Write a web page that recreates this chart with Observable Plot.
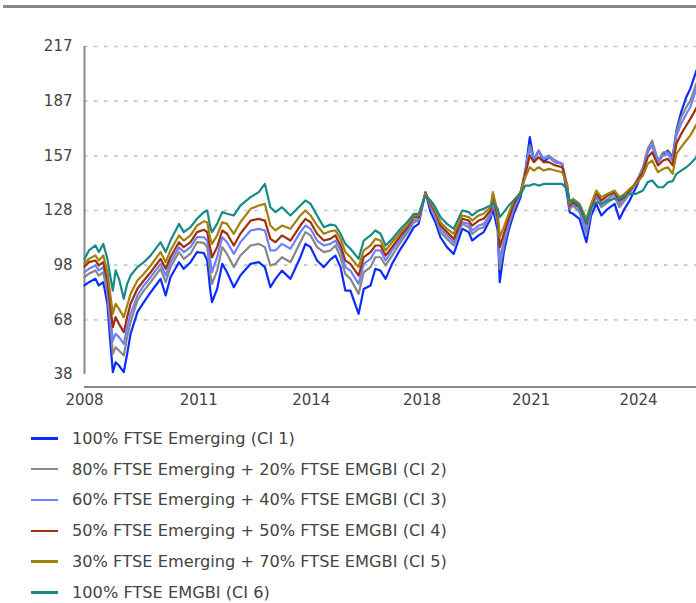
<!DOCTYPE html>
<html><head><meta charset="utf-8">
<script src="https://cdn.jsdelivr.net/npm/d3@7"></script>
<script src="https://cdn.jsdelivr.net/npm/@observablehq/plot@0.6"></script>
<style>
body{margin:0;background:#fff;font-family:"DejaVu Sans",sans-serif;}
#wrap{position:relative;width:696px;height:603px;overflow:hidden;background:#fff}
#topline{position:absolute;left:3px;right:0;top:5px;height:3px;background:#888}
#chart{position:absolute;left:0;top:0}
#legend{position:absolute;left:0;top:423px}
.item{height:30.8px;display:flex;align-items:center;font-size:16.2px;color:#444;white-space:nowrap}
.sw{width:27px;height:2.5px;margin-left:31px;margin-right:14px}
</style>
</head><body>
<div id="wrap"><div id="topline"></div><div id="chart"></div><div id="legend"></div></div>
<script>
const seriesNames = [
  "100% FTSE Emerging (CI 1)",
  "80% FTSE Emerging + 20% FTSE EMGBI (CI 2)",
  "60% FTSE Emerging + 40% FTSE EMGBI (CI 3)",
  "50% FTSE Emerging + 50% FTSE EMGBI (CI 4)",
  "30% FTSE Emerging + 70% FTSE EMGBI (CI 5)",
  "100% FTSE EMGBI (CI 6)"
];
const seriesColors = ["#0a2cff", "#878787", "#6f80ff", "#a0300a", "#a37f0c", "#178a88"];

const yTicks = [38, 67.83, 97.67, 127.5, 157.33, 187.17, 217];
const yTickLabels = ["38", "68", "98", "128", "157", "187", "217"];
const xTickYears = [2008.0, 2011.35, 2014.65, 2017.9, 2021.1, 2024.25];
const xTickLabels = ["2008", "2011", "2014", "2018", "2021", "2024"];
const xEnd = 2025.95;

// time in decimal years
const years = [2008.00,2008.13,2008.32,2008.42,2008.55,2008.67,2008.76,2008.83,2008.91,2009.01,
2009.15,2009.25,2009.35,2009.55,2009.74,2009.94,2010.23,2010.38,2010.52,2010.77,
2010.91,2011.11,2011.30,2011.50,2011.60,2011.69,2011.74,2011.89,2012.04,2012.18,
2012.38,2012.57,2012.87,2013.11,2013.29,2013.45,2013.60,2013.79,2014.04,2014.33,
2014.48,2014.63,2014.82,2015.02,2015.21,2015.36,2015.51,2015.65,2015.80,2016.04,
2016.19,2016.39,2016.53,2016.68,2016.83,2017.02,2017.27,2017.46,2017.66,2017.80,
2018.00,2018.15,2018.29,2018.44,2018.63,2018.83,2019.08,2019.27,2019.37,2019.56,
2019.71,2019.91,2019.98,2020.12,2020.18,2020.30,2020.44,2020.59,2020.79,2020.93,
2021.06,2021.18,2021.32,2021.47,2021.62,2021.81,2022.01,2022.15,2022.23,2022.33,
2022.52,2022.72,2022.86,2023.01,2023.16,2023.35,2023.55,2023.69,2023.84,2023.99,
2024.18,2024.38,2024.52,2024.65,2024.82,2024.97,2025.11,2025.25,2025.36,2025.50,
2025.65,2025.77,2025.95];

const ci1 = [86.6,88.4,90.2,86.6,88.4,76.6,54.7,39.3,44.7,42.9,
39.3,49.3,60.2,72.0,77.5,82.9,90.2,81.1,91.1,99.3,
95.7,99.3,104.8,104.3,100.2,83.8,77.5,84.7,98.4,93.8,
85.6,92.0,98.4,99.3,96.6,85.6,90.2,94.7,90.2,102.0,
109.3,107.5,100.2,96.6,100.7,102.9,96.6,83.8,83.8,71.1,
84.7,86.6,95.7,94.7,90.2,98.4,106.6,112.0,118.4,120.2,
137.5,126.6,121.1,112.9,107.5,103.8,117.5,115.7,111.1,113.9,
115.7,123.0,128.4,116.6,88.4,104.8,116.6,125.7,134.8,149.3,
167.5,154.8,160.2,153.9,156.6,153.9,153.0,136.6,126.6,125.7,
122.9,110.2,124.8,131.1,124.8,128.4,131.1,122.9,128.4,132.9,
140.2,149.3,160.2,163.0,153.9,158.4,160.2,156.6,171.1,181.2,
189.4,194.0,204.0];

const ci2 = [91.1,93.0,94.8,92.0,93.8,82.0,63.8,49.3,52.9,51.1,
48.4,58.4,66.6,78.4,83.8,88.4,95.7,88.4,96.6,104.8,
101.1,103.9,110.2,109.8,107.5,92.9,87.5,94.7,107.5,103.8,
96.6,102.9,108.4,109.3,107.5,97.5,98.4,102.0,99.3,110.2,
115.7,113.9,107.5,104.8,105.7,108.4,102.0,92.9,90.2,82.0,
93.8,96.6,102.0,102.0,97.5,102.9,110.2,115.1,121.1,122.0,
137.5,129.3,123.9,115.7,112.0,108.4,120.2,118.4,114.8,117.5,
118.4,124.8,132.0,120.2,95.7,108.4,119.3,128.4,136.6,149.3,
163.0,155.7,160.2,155.7,157.5,154.8,153.0,140.2,128.4,130.2,
126.6,114.8,127.5,134.8,129.3,132.0,134.8,129.3,132.9,136.6,
142.9,151.1,161.2,165.7,154.8,159.3,159.3,155.5,170.2,178.4,
183.9,187.5,197.0];

const ci3 = [93.8,95.7,97.5,94.8,96.6,85.6,69.3,56.5,60.2,58.4,
54.7,63.8,71.1,81.1,86.6,91.1,98.4,92.0,99.3,107.5,
104.8,107.5,113.0,112.9,111.1,100.2,93.8,102.0,112.9,110.2,
103.8,110.2,116.6,117.5,116.6,105.7,105.7,109.3,106.6,115.7,
119.3,117.5,111.1,108.4,109.3,111.1,105.7,96.6,94.7,87.5,
98.4,101.1,105.7,105.7,100.2,105.7,112.0,116.6,122.0,123.0,
137.5,130.2,124.8,117.5,113.9,110.2,121.1,120.2,116.6,119.3,
120.2,125.7,133.9,122.0,100.2,111.1,121.1,129.3,137.5,149.3,
161.2,155.7,159.3,155.7,156.6,153.9,153.0,141.1,129.3,131.1,
127.5,116.6,128.4,136.6,131.1,133.9,136.6,131.1,133.9,137.5,
142.9,150.2,159.3,163.0,153.9,157.5,158.4,154.5,168.4,174.8,
180.2,184.0,194.0];

const ci4 = [97.0,99.3,100.2,97.5,99.3,89.3,74.7,63.8,69.3,65.6,
61.1,69.3,76.6,84.8,89.3,93.8,101.1,95.7,102.0,110.2,
107.5,110.2,115.7,117.0,115.7,106.6,102.0,107.5,116.6,114.8,
108.4,114.8,122.0,122.9,122.0,112.0,110.2,113.9,111.1,119.3,
122.9,121.1,114.8,111.1,112.0,113.9,108.4,100.2,98.4,92.0,
102.0,104.8,108.4,108.4,102.9,107.5,113.9,118.0,123.9,123.9,
137.0,131.1,126.6,119.3,115.7,112.0,123.0,122.0,119.3,122.0,
123.0,127.5,135.7,123.9,107.5,114.8,123.0,131.1,137.5,147.5,
157.5,153.9,156.6,153.9,153.9,152.1,151.1,142.0,130.2,132.0,
129.3,120.2,129.3,137.5,132.9,135.7,137.5,132.9,134.8,138.4,
142.9,148.4,156.6,159.3,152.1,154.8,155.7,152.1,163.9,169.3,
173.9,177.5,183.5];

const ci5 = [98.8,101.1,103.0,100.2,103.0,93.8,81.1,71.1,76.6,73.8,
69.3,75.6,82.0,89.3,93.0,97.5,104.8,99.3,105.7,113.9,
111.1,113.9,119.3,121.6,121.1,112.0,109.3,113.9,121.1,120.2,
114.8,121.1,128.4,130.2,131.1,119.3,116.6,119.3,117.5,124.8,
127.5,124.8,119.3,114.8,116.2,116.6,112.0,104.8,102.0,96.6,
105.7,108.4,112.0,111.1,105.7,110.2,115.7,119.3,124.8,124.8,
136.6,132.0,127.5,121.1,117.5,114.8,124.8,123.9,122.0,124.8,
125.7,129.3,137.5,126.6,113.0,118.4,125.7,133.0,137.5,145.7,
151.1,149.3,151.1,149.3,150.2,149.3,148.4,142.0,131.1,133.9,
131.1,122.9,131.1,138.4,134.8,136.6,138.4,134.8,136.6,139.3,
142.0,146.6,153.0,154.8,148.4,150.2,151.1,147.5,158.4,162.1,
165.7,168.5,174.5];

const ci6 = [101.1,105.7,108.4,104.8,109.3,101.1,91.1,83.8,94.8,90.2,
79.3,87.5,92.0,96.6,99.3,103.0,110.2,104.8,111.1,120.2,
115.7,118.4,123.0,126.6,127.5,118.4,115.7,120.2,126.6,125.7,
124.8,130.2,134.8,137.5,142.0,129.3,126.6,129.3,124.8,130.2,
133.0,131.1,124.8,118.4,119.8,119.3,114.8,109.3,106.6,101.1,
111.1,113.9,116.6,114.8,108.4,112.0,117.5,121.1,125.7,125.7,
135.7,133.0,129.3,123.9,120.2,117.5,127.5,126.6,124.8,127.5,
128.4,130.2,132.0,128.4,123.9,126.6,130.2,133.0,136.6,141.1,
141.1,142.0,141.1,142.0,142.0,142.0,142.0,139.3,133.0,132.9,
130.2,121.1,129.3,132.0,131.1,132.9,133.9,133.9,135.7,136.6,
136.6,138.4,143.0,143.9,140.2,140.2,142.9,143.5,147.5,149.3,
151.1,153.0,156.6];

const seriesValues = [ci1, ci2, ci3, ci4, ci5, ci6];

function toDate(y) {
  const yr = Math.floor(y);
  const s = Date.UTC(yr, 0, 1), e = Date.UTC(yr + 1, 0, 1);
  return new Date(s + (y - yr) * (e - s));
}

const data = [];
seriesValues.forEach((vals, k) => {
  vals.forEach((v, i) => data.push({date: toDate(years[i]), value: v, key: seriesNames[k]}));
});

const xTickDates = xTickYears.map(toDate);
const W = 696, H = 415, ML = 84, MB = 28, MT = 46;
const yBottom = 374;

const chart = Plot.plot({
  width: W, height: H,
  marginLeft: ML, marginRight: 0, marginTop: MT, marginBottom: MB,
  style: {fontFamily: "DejaVu Sans, sans-serif", fontSize: "15px", color: "#444", background: "transparent", overflow: "visible"},
  x: {type: "utc", domain: [toDate(years[0]), toDate(xEnd)]},
  y: {domain: [yTicks[0], yTicks[yTicks.length - 1]], range: [yBottom, MT]},
  color: {domain: seriesNames, range: seriesColors},
  marks: [
    Plot.ruleY(yTicks.slice(1), {stroke: "#c4c4c4", strokeWidth: 1.6, strokeDasharray: "3.5,6.5"}),
    Plot.ruleX([toDate(years[0])], {y1: yTicks[0], y2: yTicks[yTicks.length - 1], stroke: "#888", strokeWidth: 2}),
    Plot.line(data, {x: "date", y: "value", z: "key", stroke: "key", strokeWidth: 2.2, strokeLinejoin: "round"}),
    Plot.axisY({ticks: yTicks, tickSize: 0, tickPadding: 12, label: null,
      tickFormat: d => yTickLabels[yTicks.indexOf(d)]}),
    Plot.axisX({ticks: xTickDates, tickSize: 0, tickPadding: 7, label: null,
      tickFormat: d => xTickLabels[xTickDates.findIndex(t => +t === +d)]})
  ]
});

// x axis base line at the bottom of the frame
d3.select(chart).append("line")
  .attr("x1", ML).attr("x2", W).attr("y1", H - MB).attr("y2", H - MB)
  .attr("stroke", "#888").attr("stroke-width", 2);

document.getElementById("chart").appendChild(chart);

const legend = document.getElementById("legend");
seriesNames.forEach((n, i) => {
  const item = document.createElement("div");
  item.className = "item";
  const sw = document.createElement("span");
  sw.className = "sw";
  sw.style.background = seriesColors[i];
  const tx = document.createElement("span");
  tx.textContent = n;
  item.appendChild(sw); item.appendChild(tx);
  legend.appendChild(item);
});
</script>
</body></html>
